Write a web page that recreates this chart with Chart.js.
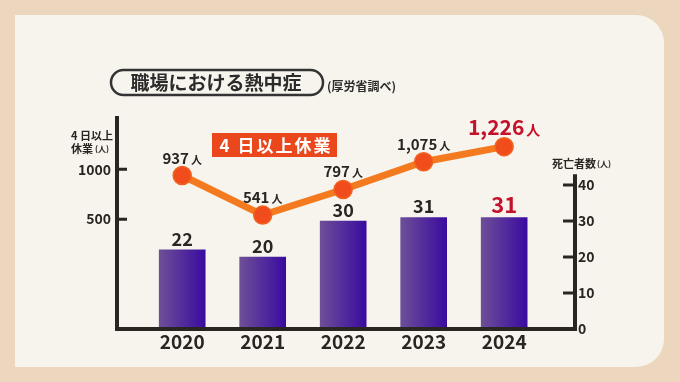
<!DOCTYPE html>
<html>
<head>
<meta charset="utf-8">
<script src="https://cdn.jsdelivr.net/npm/chart.js@4"></script>
<style>
  html, body { margin: 0; padding: 0; background: #ecd7be; }
  canvas { display: block; }
</style>
</head>
<body>
<canvas id="heatChart" width="680" height="382"></canvas>
<script>
// Data
const years = [2020, 2021, 2022, 2023, 2024];
const restDays4 = [937, 541, 797, 1075, 1226];   // 4日以上休業 (人)
const deaths = [22, 20, 30, 31, 31];             // 死亡者数 (人)
const leftTicks = [500, 1000];
const rightTicks = [0, 10, 20, 30, 40];

const FONT = '"Noto Sans CJK JP", "Noto Sans", sans-serif';
const INK = '#2a2520';
const RED = '#c4122c';

// Background card + static texts
const backdrop = {
    id: 'backdrop',
    beforeDraw(chart) {
        const c = chart.ctx;
        c.save();
        c.fillStyle = '#ecd7be';
        c.fillRect(0, 0, chart.width, chart.height);
        // card
        const l = 15, t = 15, r = 664, b = 367, rad = 28;
        c.fillStyle = '#f7f4ed';
        c.beginPath();
        c.moveTo(l, t);
        c.lineTo(r - rad, t);
        c.arcTo(r, t, r, t + rad, rad);
        c.lineTo(r, b - rad);
        c.arcTo(r, b, r - rad, b, rad);
        c.lineTo(l, b);
        c.closePath();
        c.fill();

        // title pill
        c.strokeStyle = '#333';
        c.lineWidth = 2.5;
        c.beginPath();
        c.roundRect(111, 70, 212, 25, 12.5);
        c.stroke();
        c.fillStyle = '#2b2b2b';
        c.font = 'bold 19px ' + FONT;
        c.textAlign = 'center';
        c.textBaseline = 'middle';
        c.fillText('職場における熱中症', 216, 83);
        c.font = 'bold 12px ' + FONT;
        c.textAlign = 'left';
        c.fillText('(厚労省調べ)', 327, 86);

        // series label box
        c.fillStyle = '#ea481c';
        c.fillRect(212, 133, 125, 24);
        c.fillStyle = '#fff';
        c.font = 'bold 17px ' + FONT;
        c.textAlign = 'center';
        c.letterSpacing = '2px';
        c.fillText('4 日以上休業', 276, 145.5);
        c.letterSpacing = '0px';

        // axis titles
        c.fillStyle = INK;
        c.textAlign = 'left';
        c.font = 'bold 11px ' + FONT;
        c.fillText('4 日以上', 71, 136);
        c.fillText('休業', 71, 149);
        c.font = 'bold 8px ' + FONT;
        c.fillText('(人)', 95, 149);
        c.font = 'bold 11px ' + FONT;
        c.fillText('死亡者数', 552, 164);
        c.font = 'bold 8px ' + FONT;
        c.fillText('(人)', 597, 164);
        c.restore();
    }
};

// Axis lines and inward tick marks
const axisLines = {
    id: 'axisLines',
    afterDatasetsDraw(chart) {
        const c = chart.ctx;
        const a = chart.chartArea;
        const yL = chart.scales.yL, yR = chart.scales.yR;
        c.save();
        c.strokeStyle = INK;
        c.lineWidth = 4;
        c.lineCap = 'butt';
        c.beginPath();
        c.moveTo(a.left, a.top);
        c.lineTo(a.left, a.bottom + 2);
        c.moveTo(a.left - 2, a.bottom);
        c.lineTo(a.right + 2, a.bottom);
        c.moveTo(a.right, a.bottom + 2);
        c.lineTo(a.right, yR.getPixelForValue(43));
        c.stroke();
        c.lineWidth = 3;
        c.beginPath();
        leftTicks.forEach(v => {
            const y = yL.getPixelForValue(v);
            c.moveTo(a.left, y);
            c.lineTo(a.left + 10, y);
        });
        rightTicks.slice(1).forEach(v => {
            const y = yR.getPixelForValue(v);
            c.moveTo(a.right, y);
            c.lineTo(a.right - 12, y);
        });
        c.stroke();
        c.restore();
    }
};

// Value labels over points and bars
const valueLabels = {
    id: 'valueLabels',
    afterDatasetsDraw(chart) {
        const c = chart.ctx;
        c.save();
        c.textBaseline = 'alphabetic';
        const lineMeta = chart.getDatasetMeta(0);
        lineMeta.data.forEach((pt, i) => {
            const last = i === restDays4.length - 1;
            const num = restDays4[i].toLocaleString('en-US');
            const numFont = last ? 'bold 21px ' + FONT : 'bold 15px ' + FONT;
            const unitFont = last ? 'bold 14px ' + FONT : 'bold 11px ' + FONT;
            c.font = numFont;
            const w1 = c.measureText(num).width;
            c.font = unitFont;
            const w2 = c.measureText('人').width;
            const x0 = pt.x - (w1 + 2 + w2) / 2;
            const base = pt.y - 12;
            c.fillStyle = last ? RED : INK;
            c.textAlign = 'left';
            c.font = numFont;
            c.fillText(num, x0, base);
            c.font = unitFont;
            c.fillText('人', x0 + w1 + 2, base);
        });
        const barMeta = chart.getDatasetMeta(1);
        barMeta.data.forEach((bar, i) => {
            const last = i === deaths.length - 1;
            c.font = (last ? 'bold 22px ' : 'bold 18px ') + FONT;
            c.fillStyle = last ? RED : INK;
            c.textAlign = 'center';
            c.fillText(String(deaths[i]), bar.x, bar.y - 4);
        });
        c.restore();
    }
};

function barGradient(ctx) {
    const chart = ctx.chart;
    if (!chart.chartArea) return '#54309a';
    const x = chart.scales.x.getPixelForValue(years[ctx.dataIndex]);
    const g = chart.ctx.createLinearGradient(x - 23, 0, x + 23, 0);
    g.addColorStop(0, '#6d4f97');
    g.addColorStop(1, '#3a0ba0');
    return g;
}

new Chart(document.getElementById('heatChart'), {
    type: 'bar',
    data: {
        datasets: [
            {
                type: 'line',
                label: '4日以上休業',
                data: years.map((y, i) => ({ x: y, y: restDays4[i] })),
                yAxisID: 'yL',
                borderColor: '#f47a20',
                borderWidth: 7,
                pointRadius: 9,
                pointBackgroundColor: '#f04c1c',
                pointBorderColor: '#f2621f',
                pointBorderWidth: 1.5,
                order: 0
            },
            {
                type: 'bar',
                label: '死亡者数',
                data: years.map((y, i) => ({ x: y, y: deaths[i] })),
                yAxisID: 'yR',
                backgroundColor: barGradient,
                barThickness: 46,
                order: 1
            }
        ]
    },
    options: {
        responsive: false,
        animation: false,
        events: [],
        layout: { padding: { left: 0, right: 0, top: 116, bottom: 23 } },
        plugins: { legend: { display: false }, tooltip: { enabled: false } },
        scales: {
            x: {
                type: 'linear',
                offset: false,
                min: 2019.19,
                max: 2024.88,
                grid: { display: false, drawTicks: false, offset: false },
                border: { display: false },
                afterBuildTicks: s => { s.ticks = years.map(v => ({ value: v })); },
                afterFit: s => { s.height = 30; },
                ticks: {
                    padding: 1,
                    color: INK,
                    font: { family: FONT, size: 19, weight: 'bold' },
                    callback: v => String(v)
                }
            },
            yL: {
                type: 'linear',
                position: 'left',
                min: -600,
                max: 1533,
                grid: { display: false, drawTicks: false },
                border: { display: false },
                afterBuildTicks: s => { s.ticks = leftTicks.map(v => ({ value: v })); },
                afterFit: s => { s.width = 117; },
                ticks: {
                    padding: 6,
                    color: INK,
                    font: { family: FONT, size: 14, weight: 'bold' },
                    callback: v => String(v)
                }
            },
            yR: {
                type: 'linear',
                position: 'right',
                min: 0,
                max: 59.2,
                grid: { display: false, drawTicks: false },
                border: { display: false },
                afterBuildTicks: s => { s.ticks = rightTicks.map(v => ({ value: v })); },
                afterFit: s => { s.width = 105; },
                ticks: {
                    padding: 3,
                    color: INK,
                    font: { family: FONT, size: 14, weight: 'bold' },
                    callback: v => String(v)
                }
            }
        }
    },
    plugins: [backdrop, axisLines, valueLabels]
});
</script>
</body>
</html>
